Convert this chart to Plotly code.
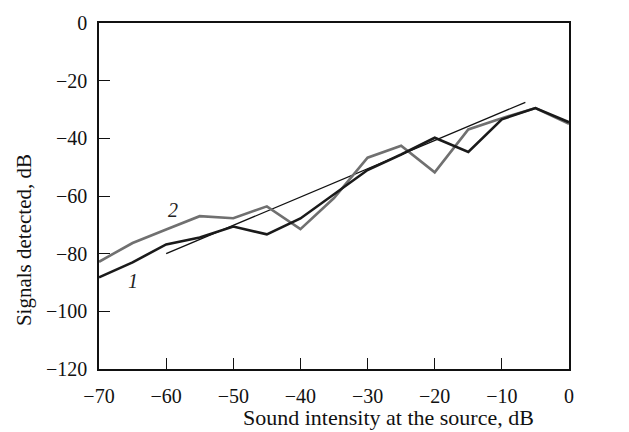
import plotly.graph_objects as go

x_vals = [-70, -65, -60, -55, -50, -45, -40, -35, -30, -25, -20, -15, -10, -5, 0]
curve1 = [-88.2, -83.0, -76.8, -74.4, -70.6, -73.3, -67.8, -59.5, -51.0, -45.6, -39.8, -44.7, -33.4, -29.5, -34.4]
curve2 = [-82.8, -76.3, -71.6, -67.0, -67.7, -63.6, -71.5, -60.7, -46.7, -42.6, -51.8, -36.9, -33.0, -29.5, -35.0]
fit_x = [-60, -6.5]
fit_y = [-80, -27.5]
x_ticks = [-70, -60, -50, -40, -30, -20, -10, 0]
y_ticks = [0, -20, -40, -60, -80, -100, -120]
x_title = "Sound intensity at the source, dB"
y_title = "Signals detected, dB"

FONT = "Liberation Serif"

fig = go.Figure()
fig.add_trace(go.Scatter(x=fit_x, y=fit_y, mode="lines",
                         line=dict(color="#111111", width=1.3), showlegend=False))
fig.add_trace(go.Scatter(x=x_vals, y=curve2, mode="lines",
                         line=dict(color="#707070", width=2.6), showlegend=False))
fig.add_trace(go.Scatter(x=x_vals, y=curve1, mode="lines",
                         line=dict(color="#1a1a1a", width=2.6), showlegend=False))

fig.add_annotation(x=-59, y=-65, text="<i>2</i>", showarrow=False,
                   font=dict(family=FONT, size=20, color="#222222"))
fig.add_annotation(x=-65, y=-89.5, text="<i>1</i>", showarrow=False,
                   font=dict(family=FONT, size=20, color="#222222"))

fig.add_annotation(xref="paper", yref="paper", x=0.615, y=-0.140,
                   xanchor="center", yanchor="middle", text=x_title,
                   showarrow=False, font=dict(family=FONT, size=22, color="#111111"))
fig.add_annotation(xref="paper", yref="paper", x=-0.160, y=0.372,
                   xanchor="center", yanchor="middle", text=y_title, textangle=-90,
                   showarrow=False, font=dict(family=FONT, size=21, color="#111111"))

fig.update_layout(
    width=629, height=432,
    margin=dict(l=99, r=60, t=20, b=63),
    plot_bgcolor="white", paper_bgcolor="white",
    font=dict(family=FONT, size=20, color="#111111"),
    xaxis=dict(range=[-70, 0], tickvals=x_ticks, ticks="inside", ticklen=11,
               tickcolor="#111111", tickwidth=1.3, ticklabelstandoff=8,
               showline=True, linecolor="#111111", linewidth=1.5, mirror=True,
               showgrid=False, zeroline=False),
    yaxis=dict(range=[-120, 0], tickvals=y_ticks, ticks="inside", ticklen=11,
               tickcolor="#111111", tickwidth=1.3, ticklabelstandoff=6,
               showline=True, linecolor="#111111", linewidth=1.5, mirror=True,
               showgrid=False, zeroline=False),
)

fig.write_html("out.html")
